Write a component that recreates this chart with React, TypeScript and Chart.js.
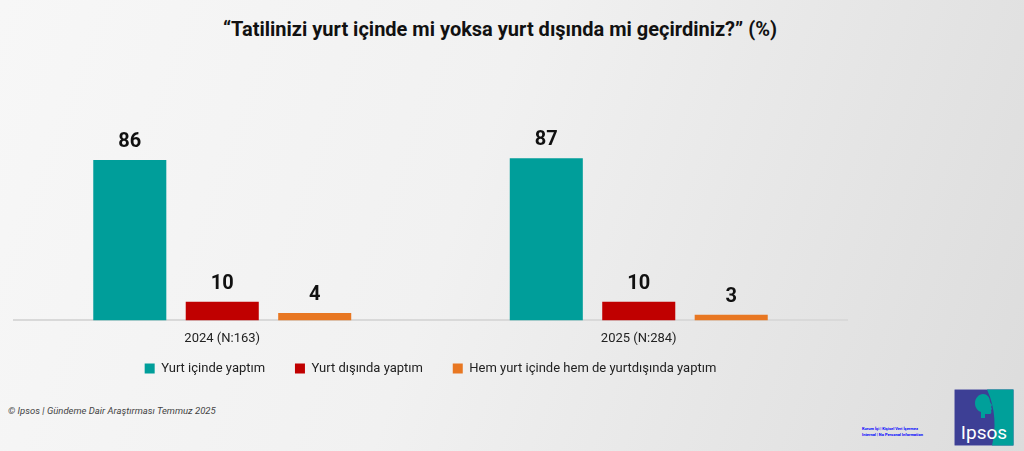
import React, { useEffect, useRef } from "react";
import { Chart, registerables } from "chart.js";

Chart.register(...registerables);

const categories = ["2024 (N:163)", "2025 (N:284)"];
const seriesNames = ["Yurt içinde yaptım", "Yurt dışında yaptım", "Hem yurt içinde hem de yurtdışında yaptım"];
const yurtIci = [86, 87];
const yurtDisi = [10, 10];
const herIkisi = [4, 3];
const colors = ["#009E9A", "#C00000", "#E87722"];

const FONT = "Roboto, 'Noto Sans', sans-serif";
const LEGEND_GAP = "\u00A0\u00A0\u00A0\u00A0\u00A0\u00A0\u00A0\u00A0";

const valueLabels = {
  id: "valueLabels",
  afterDatasetsDraw(chart: any) {
    const ctx = chart.ctx;
    ctx.save();
    ctx.font = `bold 20px ${FONT}`;
    ctx.fillStyle = "#111";
    ctx.textAlign = "center";
    ctx.textBaseline = "bottom";
    chart.data.datasets.forEach((ds: any, i: number) => {
      const meta = chart.getDatasetMeta(i);
      meta.data.forEach((bar: any, j: number) => {
        ctx.fillText(String(ds.data[j]), bar.x, bar.y - 8);
      });
    });
    ctx.restore();
  },
};

export default function App() {
  const ref = useRef<HTMLCanvasElement>(null);
  useEffect(() => {
    document.body.style.margin = "0";
    const chart = new Chart(ref.current!, {
      type: "bar",
      data: {
        labels: categories,
        datasets: [
          { label: seriesNames[0], data: yurtIci, backgroundColor: colors[0] },
          { label: seriesNames[1], data: yurtDisi, backgroundColor: colors[1] },
          { label: seriesNames[2], data: herIkisi, backgroundColor: colors[2] },
        ],
      },
      options: {
        animation: false,
        responsive: false,
        maintainAspectRatio: false,
        layout: { padding: { left: 14, right: 13, top: 134, bottom: 0 } },
        datasets: { bar: { categoryPercentage: 0.666, barPercentage: 0.79 } },
        scales: {
          x: {
            grid: { display: false, drawTicks: false },
            border: { display: true, color: "#d9d9d9", width: 2 },
            ticks: { color: "#222", font: { family: FONT, size: 13 }, padding: 11 },
          },
          y: { display: false, min: 0, max: 100 },
        },
        plugins: {
          title: { display: false },
          tooltip: { enabled: false },
          legend: {
            position: "bottom",
            labels: {
              boxWidth: 10,
              boxHeight: 10,
              padding: 4,
              color: "#222",
              font: { family: FONT, size: 13 },
              generateLabels(ch: any) {
                const items = Chart.defaults.plugins.legend.labels.generateLabels(ch);
                return items.map((it: any, i: number) => ({
                  ...it,
                  text: i < items.length - 1 ? it.text + LEGEND_GAP : it.text,
                  lineWidth: 0,
                }));
              },
            },
          },
        },
      },
      plugins: [valueLabels],
    });
    return () => chart.destroy();
  }, []);

  return (
    <div
      style={{
        position: "relative",
        width: 1024,
        height: 451,
        overflow: "hidden",
        background: "linear-gradient(110deg, #f7f7f7 0%, #f1f1f1 45%, #dcdcdc 100%)",
        fontFamily: FONT,
      }}
    >
      <div
        style={{
          position: "absolute",
          top: 17,
          left: 0,
          width: 1000,
          textAlign: "center",
          fontWeight: "bold",
          fontSize: 20,
          color: "#111",
        }}
      >
        “Tatilinizi yurt içinde mi yoksa yurt dışında mi geçirdiniz?” (%)
      </div>
      <canvas ref={ref} width={860} height={385} style={{ position: "absolute", left: 0, top: 0 }} />
      <div
        style={{
          position: "absolute",
          left: 8,
          top: 405,
          fontSize: 9.5,
          fontStyle: "italic",
          color: "#444",
        }}
      >
        © Ipsos | Gündeme Dair Araştırması  Temmuz 2025
      </div>
      <div
        style={{
          position: "absolute",
          left: 862,
          top: 426,
          fontSize: 4,
          lineHeight: "6px",
          fontWeight: "bold",
          color: "#0000ff",
        }}
      >
        Kurum İçi | Kişisel Veri İçermez
        <br />
        Internal | No Personal Information
      </div>
      <svg style={{ position: "absolute", left: 954, top: 389 }} width={60} height={57} viewBox="0 0 60 57">
        <rect x="0" y="0" width="60" height="57" fill="#3D3F95" stroke="#e8e8e8" strokeWidth="1" />
        <path d="M33 0.5 L59.5 0.5 L59.5 56.5 L38 56.5 C42 40 42 20 33 0.5 Z" fill="#00A09A" />
        <path d="M29 5 C25 5 21 9 21 14 C21 19 24 22 27 23 L27 29 L31 29 L31 25 L36 25 C37 25 38 23 37 21 L38 20 L37 18 L38 16 L36 13 C36 8 33 5 29 5 Z" fill="#00A09A" />
        <text x="30" y="50" textAnchor="middle" fill="#fff" fontSize="19" fontFamily={FONT}>
          Ipsos
        </text>
      </svg>
    </div>
  );
}
